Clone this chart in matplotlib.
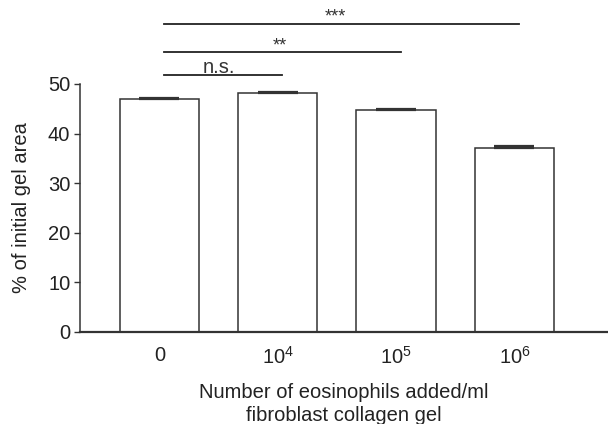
import matplotlib.pyplot as plt
import numpy as np

plt.rcParams['font.family'] = ['Liberation Sans', 'DejaVu Sans']
plt.rcParams['mathtext.fontset'] = 'custom'
plt.rcParams['mathtext.rm'] = 'Liberation Sans'
plt.rcParams['mathtext.it'] = 'Liberation Sans:italic'

categories = ['0', '$\\mathrm{10^4}$', '$\\mathrm{10^5}$', '$\\mathrm{10^6}$']
area = [46.9, 48.25, 44.8, 37.0]
err = [0.35, 0.2, 0.2, 0.5]

# significance brackets: (from bar, to bar, label)
sig = [(0, 1, 'n.s.'), (0, 2, '**'), (0, 3, '***')]
sig_y = [51.75, 56.5, 62.1]
sig_text_x = [0.50, 1.02, 1.49]
sig_text_y = [53.4, 57.7, 63.4]

fig = plt.figure(figsize=(6.08, 4.24), dpi=100)
ax = fig.add_axes([0.1316, 0.217, 0.8684, 0.585])

x = np.arange(len(categories))
ax.bar(x, area, width=0.67, color='white', edgecolor='#333333', linewidth=1.1, zorder=2)
ax.errorbar(x, area, yerr=[np.zeros(len(err)), err], fmt='none', ecolor='#333333',
            elinewidth=1.0, capsize=14.5, capthick=1.6, zorder=3)

ax.set_xlim(-0.67, 3.79)
ax.set_ylim(0, 50)
ax.set_yticks([0, 10, 20, 30, 40, 50])
ax.set_xticks(x)
ax.set_xticklabels(categories)
ax.tick_params(axis='x', length=0, pad=10, labelsize=14.5, colors='#222222')
ax.tick_params(axis='y', length=4, width=1, pad=3, labelsize=14.5, color='#333333',
               labelcolor='#222222')
for s in ['top', 'right']:
    ax.spines[s].set_visible(False)
ax.spines['left'].set_color('#333333')
ax.spines['bottom'].set_color('#333333')
ax.spines['left'].set_linewidth(1.1)
ax.spines['bottom'].set_linewidth(1.6)

ax.set_ylabel('% of initial gel area', fontsize=14.5, labelpad=12, color='#222222')
ax.set_xlabel('Number of eosinophils added/ml\nfibroblast collagen gel', fontsize=14.5,
              labelpad=11, linespacing=1.25, color='#222222')

for (a, b, lab), yy, tx, ty in zip(sig, sig_y, sig_text_x, sig_text_y):
    ax.plot([a + 0.04, b + 0.04], [yy, yy], color='#222222', lw=1.3, clip_on=False)
    fs = 14.5 if lab == 'n.s.' else 13
    ax.text(tx, ty, lab, ha='center', va='center', fontsize=fs, color='#333333')

fig.savefig('out.png', dpi=100)
